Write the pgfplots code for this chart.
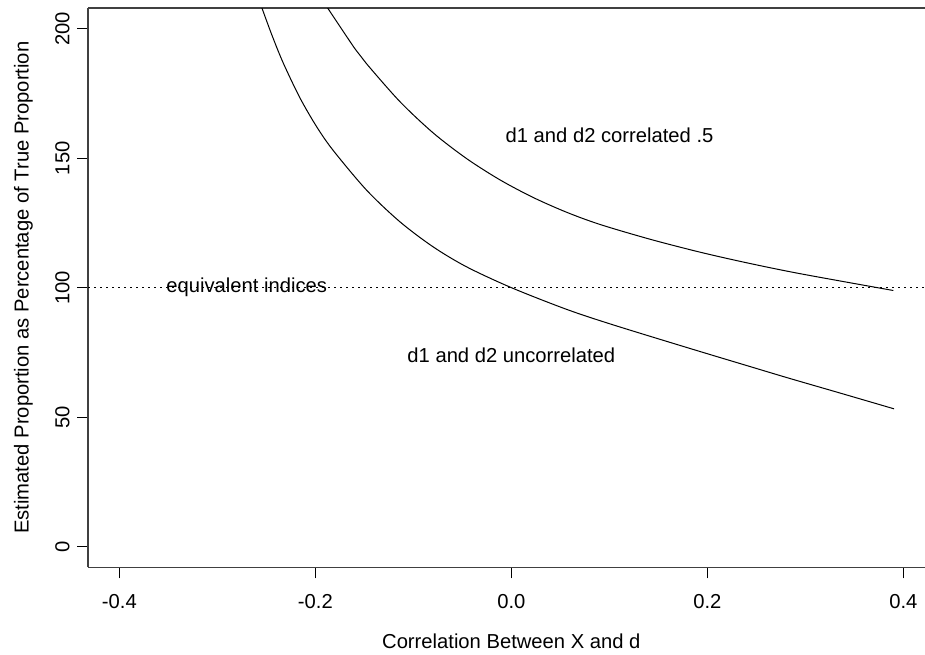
\documentclass[border=0pt]{standalone}
\usepackage{pgfplots}
\pgfplotsset{compat=1.18}
\usepackage{fontspec}
\setmainfont{Liberation Sans}
\begin{document}
\fontsize{10.1pt}{12pt}\selectfont
\begin{tikzpicture}
\useasboundingbox (0,0) rectangle (462.5pt,327pt);
\begin{axis}[
  at={(44pt,43.35pt)}, anchor=south west,
  scale only axis, width=418.5pt, height=279.65pt,
  xmin=-0.432, xmax=0.4221, ymin=-8, ymax=208,
  axis y line*=left,
  xtick pos=left,
  xtick={-0.4,-0.2,0,0.2,0.4}, xticklabels={-0.4,-0.2,0.0,0.2,0.4},
  ytick={0,50,100,150,200}, yticklabels={},
  tick align=outside, major tick length=5.5pt,
  tick style={black, line width=0.5pt},
  axis line style={black!75, line width=0.7pt},
  xticklabel style={anchor=north, inner sep=0pt},
  xticklabel shift=8pt,
  clip=true,
]
\addplot[black, line width=0.5pt, dash pattern=on 0.75pt off 2.25pt] coordinates {(-0.432,100) (0.4221,100)};
% d1 and d2 uncorrelated
\addplot[black, line width=0.5pt, smooth] coordinates {
(-0.2549,208.4) (-0.2445,197.7) (-0.2327,186.7) (-0.2156,173.2) (-0.1986,162.1)
(-0.1816,152.9) (-0.1476,137.6) (-0.1136,125.4) (-0.0796,115.7) (-0.0455,108.0)
(0.0,100.0) (0.0565,91.6) (0.1041,85.6) (0.1824,76.5) (0.2504,68.75)
(0.2844,64.9) (0.3354,59.3) (0.3905,53.2)};
% d1 and d2 correlated .5
\addplot[black, line width=0.5pt, smooth] coordinates {
(-0.1885,208.6) (-0.1595,192.2) (-0.1476,186.4) (-0.1136,171.8) (-0.0796,159.7)
(-0.0455,149.8) (-0.0115,141.6) (0.0224,134.8) (0.0565,129.1) (0.0905,124.4)
(0.1415,118.7) (0.1926,113.7) (0.2402,109.6) (0.2946,105.4) (0.3898,98.9)};
\node at (axis cs:-0.27,100) {equivalent indices};
\node at (axis cs:0.1002,158.7) {d1 and d2 correlated .5};
\node at (axis cs:0.0,73.7) {d1 and d2 uncorrelated};
\coordinate (t0) at (axis cs:-0.432,0);
\coordinate (t50) at (axis cs:-0.432,50);
\coordinate (t100) at (axis cs:-0.432,100);
\coordinate (t150) at (axis cs:-0.432,150);
\coordinate (t200) at (axis cs:-0.432,200);
\end{axis}
\foreach \v in {0,50,100,150,200}{
  \node[rotate=90, anchor=south, inner sep=0pt] at ([xshift=-9pt]t\v) {\v};
}
\node[rotate=90] at (11.65pt,183.15pt) {Estimated Proportion as Percentage of True Proportion};
\node at (255.65pt,6.15pt) {Correlation Between X and d};
\end{tikzpicture}
\end{document}
